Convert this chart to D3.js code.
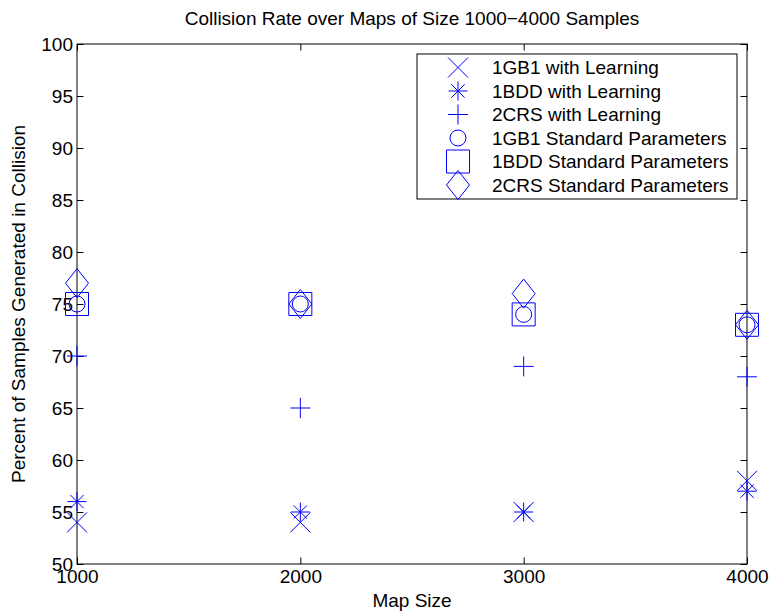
<!DOCTYPE html>
<html>
<head>
<meta charset="utf-8">
<script src="https://cdn.jsdelivr.net/npm/d3@7"></script>
<style>
  body { margin: 0; background: #fff; }
  text { font-family: "Liberation Sans", Arial, sans-serif; }
</style>
</head>
<body>
<svg id="chart" width="769" height="614"></svg>
<script>
const mapSizes = [1000, 2000, 3000, 4000];
const gb1Learning = [54, 54, 55, 58];
const bddLearning = [56, 55, 55, 57];
const crsLearning = [70, 65, 69, 68];
const gb1Standard = [75, 75, 74, 73];
const bddStandard = [75, 75, 74, 73];
const crsStandard = [77, 75, 76, 73];
const seriesNames = ["1GB1 with Learning", "1BDD with Learning", "2CRS with Learning",
  "1GB1 Standard Parameters", "1BDD Standard Parameters", "2CRS Standard Parameters"];
const seriesMarkers = ["x", "asterisk", "plus", "circle", "square", "diamond"];
const xTicks = [1000, 2000, 3000, 4000];
const yTicks = [50, 55, 60, 65, 70, 75, 80, 85, 90, 95, 100];

const seriesValues = [gb1Learning, bddLearning, crsLearning, gb1Standard, bddStandard, crsStandard];

const svg = d3.select("#chart");
const L = 77, R = 747, T = 44, B = 564;
const x = d3.scaleLinear().domain([1000, 4000]).range([L, R]);
const y = d3.scaleLinear().domain([50, 100]).range([B, T]);
const blue = "#0000ff";
const tickLen = 6.5;
const fs = "19px";

function markerPath(type) {
  const p = d3.path();
  if (type === "x") {
    const h = 10;
    p.moveTo(-h, -h); p.lineTo(h, h); p.moveTo(-h, h); p.lineTo(h, -h);
  } else if (type === "asterisk") {
    const h = 9.5, d = 6.7;
    p.moveTo(-h, 0); p.lineTo(h, 0);
    p.moveTo(0, -h); p.lineTo(0, h);
    p.moveTo(-d, -d); p.lineTo(d, d);
    p.moveTo(-d, d); p.lineTo(d, -d);
  } else if (type === "plus") {
    const h = 10;
    p.moveTo(-h, 0); p.lineTo(h, 0); p.moveTo(0, -h); p.lineTo(0, h);
  } else if (type === "circle") {
    p.moveTo(8, 0); p.arc(0, 0, 8, 0, 2 * Math.PI);
  } else if (type === "square") {
    p.rect(-11.5, -11.5, 23, 23);
  } else if (type === "diamond") {
    p.moveTo(0, -14.5); p.lineTo(11.5, 0); p.lineTo(0, 14.5); p.lineTo(-11.5, 0); p.closePath();
  }
  return p.toString();
}

const g = svg.append("g");
const xAxisB = d3.axisBottom(x).tickValues(xTicks).tickSize(-tickLen).tickPadding(6).tickFormat(d3.format("d"));
const xAxisT = d3.axisTop(x).tickValues(xTicks).tickSize(-tickLen).tickFormat("");
const yAxisL = d3.axisLeft(y).tickValues(yTicks).tickSize(-tickLen).tickPadding(4).tickFormat(d3.format("d"));
const yAxisR = d3.axisRight(y).tickValues(yTicks).tickSize(-tickLen).tickFormat("");

function styleAxis(sel) {
  sel.selectAll(".tick line").attr("stroke", "#000").attr("stroke-width", 1);
  sel.selectAll(".tick text").attr("fill", "#000").style("font-size", fs)
     .style("font-family", "'Liberation Sans', Arial, sans-serif");
}

g.append("g").attr("transform", `translate(0,${B})`).call(xAxisB).call(styleAxis);
g.append("g").attr("transform", `translate(0,${T})`).call(xAxisT).call(styleAxis);
g.append("g").attr("transform", `translate(${L},0)`).call(yAxisL).call(styleAxis);
g.append("g").attr("transform", `translate(${R},0)`).call(yAxisR).call(styleAxis);
svg.selectAll(".domain").remove();
svg.append("rect").attr("x", L).attr("y", T).attr("width", R - L).attr("height", B - T)
  .attr("fill", "none").attr("stroke", "#000").attr("stroke-width", 1);

const plot = svg.append("g");
seriesValues.forEach((vals, si) => {
  plot.selectAll(null).data(vals).enter().append("path")
    .attr("transform", (d, i) => `translate(${x(mapSizes[i])},${y(d)})`)
    .attr("d", markerPath(seriesMarkers[si]))
    .attr("fill", "none").attr("stroke", blue).attr("stroke-width", 1);
});

const legX = 417, legY = 54, legW = 320, legH = 145;
const leg = svg.append("g");
leg.append("rect").attr("x", legX).attr("y", legY).attr("width", legW).attr("height", legH)
  .attr("fill", "#fff").attr("stroke", "#000").attr("stroke-width", 1);
const rowY = d3.scaleLinear().domain([0, 5]).range([67.5, 185]);
seriesNames.forEach((name, i) => {
  leg.append("path").attr("transform", `translate(458,${rowY(i)})`)
    .attr("d", markerPath(seriesMarkers[i]))
    .attr("fill", "none").attr("stroke", blue).attr("stroke-width", 1);
  leg.append("text").attr("x", 492).attr("y", rowY(i)).attr("dy", "0.36em")
    .style("font-size", fs).attr("fill", "#000").text(name);
});

svg.append("text").attr("x", (L + R) / 2).attr("y", 25).attr("text-anchor", "middle")
  .style("font-size", fs).attr("fill", "#000")
  .text("Collision Rate over Maps of Size 1000\u22124000 Samples");
svg.append("text").attr("x", (L + R) / 2).attr("y", 607).attr("text-anchor", "middle")
  .style("font-size", fs).attr("fill", "#000").text("Map Size");
svg.append("text").attr("transform", `translate(25,${(T + B) / 2}) rotate(-90)`)
  .attr("text-anchor", "middle").style("font-size", fs).attr("fill", "#000")
  .text("Percent of Samples Generated in Collision");
</script>
</body>
</html>
